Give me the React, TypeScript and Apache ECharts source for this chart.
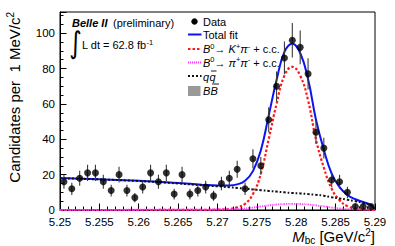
import React, { useEffect, useRef } from 'react';
import * as echarts from 'echarts';

// ---- data ----
const binCenters = [
  5.2505, 5.2515, 5.2525, 5.2535, 5.2545, 5.2555, 5.2565, 5.2575, 5.2585, 5.2595,
  5.2605, 5.2615, 5.2625, 5.2635, 5.2645, 5.2655, 5.2665, 5.2675, 5.2685, 5.2695,
  5.2705, 5.2715, 5.2725, 5.2735, 5.2745, 5.2755, 5.2765, 5.2775, 5.2785, 5.2795,
  5.2805, 5.2815, 5.2825, 5.2835, 5.2845, 5.2855, 5.2865, 5.2875, 5.2885, 5.2895,
];
const counts = [
  16, 12, 18, 21, 21, 16, 11, 20, 11, 7,
  13, 21, 16, 21, 9, 20, 9, 11, 13, 8,
  15, 18, 23, 12, 29, 25, 51, 70, 86, 96,
  92, 77, 44, 35, 17, 16, 10, 2, 2, 2,
];
const countErrors = [
  4.0, 3.46, 4.24, 4.58, 4.58, 4.0, 3.32, 4.47, 3.32, 2.65,
  3.61, 4.58, 4.0, 4.58, 3.0, 4.47, 3.0, 3.32, 3.61, 2.83,
  3.87, 4.24, 4.8, 3.46, 5.39, 5.0, 7.14, 8.37, 9.27, 9.8,
  9.59, 8.77, 6.63, 5.92, 4.12, 4.0, 3.16, 1.41, 1.41, 1.41,
];

const curveMass = [
  5.25, 5.255, 5.26, 5.265, 5.268, 5.27, 5.2715, 5.2725, 5.2735, 5.2745,
  5.2755, 5.2765, 5.2775, 5.2785, 5.2795, 5.2805, 5.2815, 5.2825, 5.2835, 5.2845,
  5.2855, 5.2865, 5.2875, 5.2885, 5.2895, 5.29,
];
const totalFit = [
  18.1, 17.4, 16.55, 15.25, 14.35, 13.9, 13.9, 14.5, 16.5, 22.0,
  33.7, 53.4, 73.5, 89.4, 94.1, 88.8, 74.1, 51.2, 34.1, 20.6,
  12.9, 8.5, 6.1, 4.5, 2.8, 0.15,
];
const kpiSignal = [
  0, 0, 0, 0.05, 0.1, 0.2, 0.6, 1.5, 3.5, 9,
  20.5, 40, 60, 76, 81, 76, 62, 40, 24, 12,
  5.5, 2.2, 0.8, 0.3, 0.1, 0.05,
];
const pipiComponent = [
  0.1, 0.1, 0.15, 0.2, 0.25, 0.3, 0.4, 0.5, 0.9, 1.4,
  2.0, 2.6, 3.1, 3.4, 3.5, 3.4, 3.1, 2.6, 2.0, 1.4,
  0.9, 0.5, 0.3, 0.2, 0.1, 0.1,
];
const qqbarComponent = [
  18.0, 17.3, 16.4, 15.0, 14.0, 13.4, 12.9, 12.5, 12.1, 11.6,
  11.2, 10.8, 10.4, 10.0, 9.6, 9.4, 9.0, 8.6, 8.1, 7.2,
  6.5, 5.8, 5.0, 4.0, 2.6, 0,
];

const xTickLabels = ['5.25', '5.255', '5.26', '5.265', '5.27', '5.275', '5.28', '5.285', '5.29'];
const yTickLabels = ['0', '20', '40', '60', '80', '100'];

const FONT = '"Liberation Sans", Arial, Helvetica, sans-serif';

const pairs = (xs: number[], ys: number[]) => xs.map((x, i) => [x, ys[i]]);

export default function App() {
  const ref = useRef<HTMLDivElement>(null);
  useEffect(() => {
    if (!ref.current) return;
    const chart = echarts.init(ref.current, undefined, { renderer: 'svg' });
    const supStyle = { fontSize: 7.5, verticalAlign: 'top', lineHeight: 8, fontFamily: FONT, fill: '#000' };
    const legendRich: any = {
      n: { fontSize: 11, fontFamily: FONT, lineHeight: 14 },
      i: { fontSize: 11, fontFamily: FONT, fontStyle: 'italic', lineHeight: 14 },
      s: supStyle,
    };
    const lineLegend = (y: number, color: string, dash: number[] | null, width: number) => ({
      type: 'line',
      shape: { x1: 188, y1: y, x2: 201.5, y2: y },
      style: { stroke: color, lineWidth: width, lineDash: dash || undefined },
    });
    const curve = (name: string, ys: number[], lineStyle: any, z: number) => ({
      type: 'line', name, data: pairs(curveMass, ys), showSymbol: false,
      smooth: 0.45, lineStyle, z,
    });
    const option: any = {
      animation: false,
      grid: { left: 60, right: 20, top: 12, bottom: 36, show: true, borderColor: '#000', borderWidth: 1 },
      xAxis: {
        type: 'value', min: 5.25, max: 5.29, interval: 0.005,
        axisLine: { show: true, onZero: false, lineStyle: { color: '#000', width: 1 } },
        axisTick: { show: true, inside: true, length: 6.5, lineStyle: { color: '#000' } },
        minorTick: { show: true, splitNumber: 5, length: 3.5, lineStyle: { color: '#000' } },
        splitLine: { show: false },
        axisLabel: {
          color: '#000', fontFamily: FONT, fontSize: 11.5, margin: 6,
          formatter: (v: number) => {
            const idx = Math.round((v - 5.25) / 0.005);
            return xTickLabels[idx] ?? '';
          },
        },
      },
      yAxis: {
        type: 'value', min: 0, max: 112, interval: 20,
        axisLine: { show: true, lineStyle: { color: '#000', width: 1 } },
        axisTick: { show: true, inside: true, length: 6.5, lineStyle: { color: '#000' } },
        minorTick: { show: true, splitNumber: 4, length: 3.5, lineStyle: { color: '#000' } },
        splitLine: { show: false },
        axisLabel: {
          color: '#000', fontFamily: FONT, fontSize: 11.5, margin: 5, showMaxLabel: false,
          formatter: (v: number) => {
            const idx = Math.round(v / 20);
            return Math.abs(v - idx * 20) < 1e-6 ? (yTickLabels[idx] ?? '') : '';
          },
        },
      },
      series: [
        curve('Total fit', totalFit, { color: '#0a14f0', width: 2 }, 2),
        curve('Kpi', kpiSignal, { color: '#ff1a1a', width: 2.2, type: [2.5, 2] }, 3),
        curve('pipi', pipiComponent, { color: '#ff33ff', width: 1.8, type: [1, 1] }, 3),
        curve('qqbar', qqbarComponent, { color: '#111', width: 2, type: [2, 2] }, 4),
        {
          type: 'custom', name: 'errors',
          data: binCenters.map((x, i) => [x, counts[i] - countErrors[i], counts[i] + countErrors[i]]),
          encode: { x: 0, y: [1, 2] },
          renderItem: (_p: any, api: any) => {
            const a = api.coord([api.value(0), api.value(1)]);
            const b = api.coord([api.value(0), api.value(2)]);
            return {
              type: 'line',
              shape: { x1: a[0], y1: a[1], x2: b[0], y2: b[1] },
              style: { stroke: '#3a3a3a', lineWidth: 1.1 },
            };
          },
          z: 5,
        },
        {
          type: 'scatter', name: 'Data', data: pairs(binCenters, counts),
          symbol: 'circle', symbolSize: 7, itemStyle: { color: '#000' }, z: 6,
        },
      ],
      graphic: [
        // header
        { type: 'text', x: 72, y: 23, style: { text: 'Belle II', font: `italic bold 11px ${FONT}`, fill: '#000', verticalAlign: 'middle' } },
        { type: 'text', x: 113, y: 23, style: { text: '(preliminary)', font: `11px ${FONT}`, fill: '#000', verticalAlign: 'middle' } },
        { type: 'text', x: 75.5, y: 42.5, scaleX: 0.8, style: { text: '\u222B', font: `30px "DejaVu Sans"`, fill: '#000', align: 'center', verticalAlign: 'middle' } },
        { type: 'text', x: 82, y: 45, style: { text: '{n|L dt = 62.8 fb}{s|-1}', rich: legendRich, fill: '#000', verticalAlign: 'middle' } },
        // y title
        {
          type: 'text', x: 14, y: 12, rotation: Math.PI / 2,
          style: {
            text: '{t|Candidates per  1 MeV/c}{u|2}', align: 'right', verticalAlign: 'middle', fill: '#000',
            rich: { t: { fontSize: 15, fontFamily: FONT, lineHeight: 18 }, u: { fontSize: 10, fontFamily: FONT, lineHeight: 10, verticalAlign: 'top' } },
          },
        },
        // x title
        {
          type: 'text', x: 375, y: 236,
          style: {
            text: '{m|M}{b|bc}{t| [GeV/c}{u|2}{t|]}', align: 'right', verticalAlign: 'middle', fill: '#000',
            rich: {
              m: { fontSize: 15, fontFamily: FONT, fontStyle: 'italic', lineHeight: 18 },
              b: { fontSize: 10, fontFamily: FONT, lineHeight: 10, verticalAlign: 'bottom' },
              t: { fontSize: 15, fontFamily: FONT, lineHeight: 18 },
              u: { fontSize: 10, fontFamily: FONT, lineHeight: 10, verticalAlign: 'top' },
            },
          },
        },
        // legend
        { type: 'circle', shape: { cx: 194.5, cy: 21.5, r: 3.2 }, style: { fill: '#000' } },
        { type: 'text', x: 203, y: 21.5, style: { text: 'Data', font: `11px ${FONT}`, fill: '#000', verticalAlign: 'middle' } },
        lineLegend(34.5, '#0a14f0', null, 2),
        { type: 'text', x: 203, y: 34.5, style: { text: 'Total fit', font: `11px ${FONT}`, fill: '#000', verticalAlign: 'middle' } },
        lineLegend(49, '#ff1a1a', [2.5, 2], 2.2),
        { type: 'text', x: 203, y: 49, style: { text: '{i|B}{s|0}{n|\u2192 }{i|K}{s|+}{i|\u03C0}{s|-}{n| + c.c.}', rich: legendRich, fill: '#000', verticalAlign: 'middle' } },
        lineLegend(62.5, '#ff33ff', [1, 1], 1.8),
        { type: 'text', x: 203, y: 62.5, style: { text: '{i|B}{s|0}{n|\u2192 }{i|\u03C0}{s|+}{i|\u03C0}{s|-}{n| + c.c.}', rich: legendRich, fill: '#000', verticalAlign: 'middle' } },
        lineLegend(76, '#111', [2, 2], 2),
        { type: 'text', x: 203, y: 76.5, style: { text: 'q', font: `italic 11px ${FONT}`, fill: '#000', verticalAlign: 'middle' } },
        { type: 'text', x: 209.5, y: 76.5, style: { text: 'q', font: `italic 11px ${FONT}`, fill: '#000', verticalAlign: 'middle' } },
        { type: 'line', shape: { x1: 211, y1: 71, x2: 216.5, y2: 71 }, style: { stroke: '#000', lineWidth: 0.9 } },
        { type: 'rect', shape: { x: 188, y: 86, width: 12.5, height: 10 }, style: { fill: '#999' } },
        { type: 'text', x: 203, y: 91, style: { text: 'B', font: `italic 11px ${FONT}`, fill: '#000', verticalAlign: 'middle' } },
        { type: 'text', x: 210.5, y: 91, style: { text: 'B', font: `italic 11px ${FONT}`, fill: '#000', verticalAlign: 'middle' } },
        { type: 'line', shape: { x1: 212, y1: 84, x2: 219, y2: 84 }, style: { stroke: '#000', lineWidth: 0.9 } },
      ],
    };
    chart.setOption(option);
    return () => chart.dispose();
  }, []);
  return <div ref={ref} style={{ position: 'fixed', left: 0, top: 0, width: 395, height: 246, background: '#fff' }} />;
}
